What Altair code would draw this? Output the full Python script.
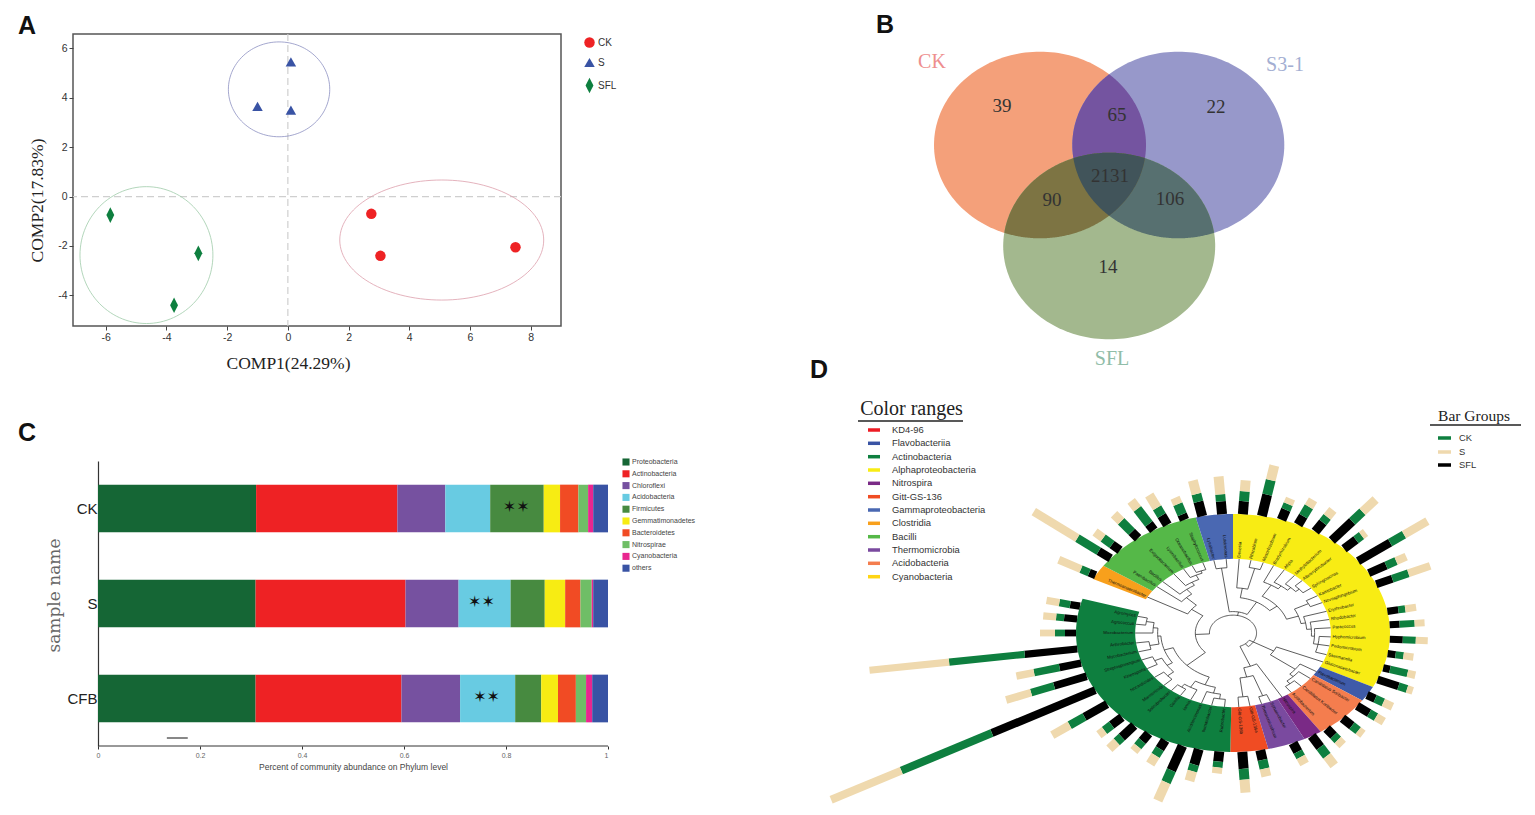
import math
import altair as alt
import numpy as np
import pandas as pd

SANS = "Liberation Sans"
SERIF = "Liberation Serif"

# ---------- Panel A data ----------
a_group = ["CK", "CK", "CK", "S", "S", "S", "SFL", "SFL", "SFL"]
a_x = [2.75, 3.05, 7.5, 0.1, -1.0, 0.1, -5.85, -2.95, -3.75]
a_y = [-0.7, -2.4, -2.05, 5.45, 3.65, 3.5, -0.75, -2.3, -4.4]
a_ell_center = [(5.07, -1.76), (-0.29, 4.34), (-4.66, -2.37)]
a_ell_radius = [(3.36, 2.43), (1.67, 1.92), (2.19, 2.77)]
a_ell_color = ["#DDA0AC", "#8D90C2", "#A0CBAA"]
a_groups = ["CK", "S", "SFL"]
a_colors = ["#EE2224", "#3953A4", "#0E7F3F"]
a_shapes = ["circle", "triangle-up", "M0,-1.5L0.75,0L0,1.5L-0.75,0Z"]

# ---------- Panel C data ----------
c_samples = ["CK", "S", "CFB"]
c_phyla = ["Proteobacteria", "Actinobacteria", "Chloroflexi", "Acidobacteria", "Firmicutes",
           "Gemmatimonadetes", "Bacteroidetes", "Nitrospirae", "Cyanobacteria", "others"]
c_colors = ["#156635", "#EE2224", "#7651A0", "#68CBE2", "#478A40",
            "#F7EC13", "#F14B24", "#6FBE66", "#E9268F", "#3953A4"]
c_ck = [0.310, 0.277, 0.094, 0.088, 0.105, 0.032, 0.036, 0.019, 0.010, 0.029]
c_s = [0.309, 0.294, 0.104, 0.102, 0.067, 0.040, 0.030, 0.022, 0.003, 0.029]
c_cfb = [0.309, 0.286, 0.115, 0.108, 0.051, 0.033, 0.035, 0.020, 0.012, 0.031]
c_star_x = [0.82, 0.752, 0.762]

# ---------- Panel B data (positions in figure units) ----------
b_ell = [(1040, 144, 106, 93.3), (1178.3, 144, 106, 93.3), (1109.2, 245, 106, 93.3)]
b_fill = ["#F4A07A", "#9798CA", "#A3B88E"]
b_pair_fill = {(0, 1): "#7454A0", (1, 2): "#577070", (0, 2): "#7D7443"}
b_triple_fill = "#41545A"
b_counts = ["39", "65", "22", "2131", "90", "106", "14"]
b_count_x = [1002, 1117, 1216, 1110, 1052, 1170, 1108]
b_count_y = [105, 114, 106, 175, 199, 198, 266]
b_names = ["CK", "S3-1", "SFL"]
b_name_x = [932, 1285, 1112]
b_name_y = [61, 64, 358]
b_name_color = ["#EE8E8E", "#A3AED2", "#90BDA8"]

# ---------- Panel D data ----------
CX, CY, RX, RY, R_IN = 1233.0, 632.0, 157.0, 119.0, 0.623
d_sector_name = ["Gitt-GS-136", "Actinobacteria", "Clostridia", "Bacilli", "Gammaproteobacteria",
                 "Alphaproteobacteria", "Flavobacteriia", "Acidobacteria", "Nitrospira", "Thermomicrobia"]
d_sector_from = [167, 181, 297, 304.4, 346.3, 360, 477, 484.6, 506, 512.9]
d_sector_to = [181, 286.7, 304.4, 346.3, 360, 477, 484.6, 506, 512.9, 527]
d_sector_color = ["#F04C23", "#0E7F3F", "#F8A01C", "#55B848", "#4A68B2",
                  "#F8EC14", "#3F5BA9", "#F47D4E", "#7A2A86", "#7A4A9F"]

d_leaf = ["Rubrobacter", "Ilumatobacter", "Aciditerrimonas", "Iamia", "Gaiella", "Solirubrobacter",
          "Marmoricola", "Nocardioides", "Kineosporia", "Streptosporangium", "Mycobacterium",
          "Arthrobacter", "Microbacterium", "Agrococcus", "Agromyces",
          "Thermoanaerobacter",
          "Paenibacillus", "Bacillus", "Exiguobacterium", "Lysinibacillus", "Oceanobacillus", "Staphylococcus",
          "Lysobacter", "Luteimonas",
          "Devosia", "Rhizobium", "Mesorhizobium", "Bradyrhizobium", "Afipia", "Methylobacterium", "Altererythrobacter",
          "Sphingomonas", "Kaistobacter", "Novosphingobium", "Erythrobacter", "Rhodobacter",
          "Paracoccus", "Hyphomicrobium", "Pedomicrobium", "Skermanella", "Gluconacetobacter",
          "Flavobacterium",
          "Candidatus Solibacter", "Candidatus Koribacter", "Acidobacterium",
          "Nitrospira",
          "Sphaerobacter", "Thermomicrobium",
          "Gitt-GS-136a", "Gitt-GS-136b"]
d_angle = [185, 192.6, 198.8, 205.6, 212.5, 219, 225, 233.3, 241.3, 248.7, 255.3, 262.3, 270, 276.8, 283,
           299,
           308.8, 314, 322.8, 329.7, 335.3, 342,
           348.7, 356,
           363.6, 370.6, 378, 384.5, 391.6, 399, 405, 412.8, 419.8, 425.8, 433, 439.5, 446, 453, 460, 467, 473,
           481.4,
           487.8, 495.8, 503.4,
           509.9,
           517.5, 523,
           530, 536.6]
d_black = [10, 16, 27, 10, 10, 17, 13, 26, 112, 34, 22, 53, 11, 13, 10,
           7,
           14, 10, 9, 8, 11, 6,
           15, 13,
           13, 22, 11, 10, 12, 28, 15, 37, 19, 17, 0, 11, 10, 13, 8, 7, 22,
           9,
           14, 12, 10,
           14,
           10, 0,
           10, 17]
d_green = [6, 7, 13, 8, 7, 7, 9, 17, 98, 24, 26, 76, 10, 8, 11,
           9,
           25, 11, 15, 19, 9, 11,
           8, 7,
           10, 15, 6, 11, 7, 14, 7, 16, 11, 17, 0, 7, 15, 13, 8, 18, 9,
           9,
           8, 8, 6,
           11,
           6, 0,
           9, 11]
d_tan = [6, 10, 20, 10, 6, 10, 7, 20, 76, 26, 18, 80, 15, 13, 13,
         24,
         51, 10, 10, 10, 15, 7,
         14, 18,
         11, 15, 6, 8, 9, 18, 5, 27, 11, 23, 0, 11, 10, 12, 10, 8, 6,
         10,
         9, 6, 7,
         12,
         8, 0,
         8, 13]

d_range_names = ["KD4-96", "Flavobacteriia", "Actinobacteria", "Alphaproteobacteria", "Nitrospira", "Gitt-GS-136",
                 "Gammaproteobacteria", "Clostridia", "Bacilli", "Thermomicrobia", "Acidobacteria", "Cyanobacteria"]
d_range_colors = ["#ED1C24", "#3953A4", "#0E7F3F", "#F8EC14", "#7A2A86", "#F04C23",
                  "#4A68B2", "#F8A01C", "#55B848", "#7A4A9F", "#F47D4E", "#FFD514"]
d_range_y = [429, 442.3, 455.7, 469, 482.3, 495.7, 509, 522.3, 535.7, 549, 562.3, 575.7]
d_bar_names = ["CK", "S", "SFL"]
d_bar_colors = ["#0E7F3F", "#EFD9AE", "#000000"]
d_bar_y = [437, 451, 464]

def N(r, *kids):
    return (r, kids)

acti = N(.40,
         N(.47, N(.52, N(.56, 0, 1), 2), N(.53, 3, N(.56, 4, 5))),
         N(.46, N(.50, N(.55, 6, 7), N(.55, 8, 9)), N(.48, N(.54, 10, 11), N(.51, 12, N(.56, 13, 14)))))
firm = N(.33, 15, N(.42, 16, N(.47, 17, N(.50, 18, N(.54, 19, N(.56, 20, 21))))))
gamma = N(.55, 22, 23)
alpha = N(.30, N(.38, 24, N(.56, 25, 26)),
          N(.36, N(.47, 27, N(.5, 28, N(.53, 29, N(.56, 30, 31)))),
            N(.44, N(.54, 32, 33), N(.47, 34, N(.50, 35, N(.52, 36, N(.55, 37, 38, 39)))))))
lower = N(.12, N(.30, 40, N(.50, 41, N(.53, 42, N(.56, 43, 44)))),
          N(.30, 45, N(.38, N(.56, 46, 47), N(.54, 48, 49))))
root = N(.15, N(.24, acti, firm), N(.18, gamma, alpha), lower)


def pt(t, r):
    a = math.radians(t)
    return CX + RX * r * math.sin(a), CY - RY * r * math.cos(a)


# --- dendrogram segments ---
tree_rows = []
seg = [0]


def add_line(points):
    seg[0] += 1
    for i, (x, y) in enumerate(points):
        tree_rows.append({"x": x, "y": y, "s": seg[0], "i": i})


def walk(node):
    if isinstance(node, int):
        return d_angle[node], R_IN
    r, kids = node
    res = [walk(k) for k in kids]
    angs = [a for a, _ in res]
    lo, hi = min(angs), max(angs)
    for a, kr in res:
        add_line([pt(a, r), pt(a, kr)])
    steps = max(2, int((hi - lo) / 3))
    add_line([pt(lo + (hi - lo) * j / steps, r) for j in range(steps + 1)])
    return (lo + hi) / 2, r


walk(root)
tree_df = pd.DataFrame(tree_rows)

# --- ring sectors ---
sector_rows = []
for k, (t0, t1, col) in enumerate(zip(d_sector_from, d_sector_to, d_sector_color)):
    n = max(3, int((t1 - t0) / 2))
    ts = [t0 + (t1 - t0) * j / n for j in range(n + 1)]
    pts = [pt(t, 1.0) for t in ts] + [pt(t, R_IN) for t in reversed(ts)]
    pts.append(pts[0])
    for i, (x, y) in enumerate(pts):
        sector_rows.append({"x": x, "y": y, "s": k, "i": i, "c": col})
sector_df = pd.DataFrame(sector_rows)

# --- radial bars ---
bar_rows = []
for t, b, g, n in zip(d_angle, d_black, d_green, d_tan):
    x0, y0 = pt(t, 1.0)
    a = math.radians(t)
    dx, dy = RX * math.sin(a), -RY * math.cos(a)
    L = math.hypot(dx, dy)
    dx, dy = dx / L, dy / L
    w = 6.8 + 3.2 * abs(dy)
    d = 0.0
    for ln, col in zip((b, g, n), ("#000000", "#0E7F3F", "#EFD9AE")):
        if ln > 0:
            bar_rows.append({"x": x0 + dx * d, "y": y0 + dy * d, "x2": x0 + dx * (d + ln),
                             "y2": y0 + dy * (d + ln), "c": col, "w": w})
        d += ln
bar_df = pd.DataFrame(bar_rows)

# --- leaf labels ---
label_rows = []
for name, t in zip(d_leaf, d_angle):
    x, y = pt(t, 0.635)
    x1, y1 = pt(t, 1.0)
    phi = math.degrees(math.atan2(y1 - y, x1 - x))
    left = (t % 360) > 180
    label_rows.append({"x": x, "y": y, "name": name, "angle": (phi + 180) % 360 if left else phi % 360,
                       "side": "L" if left else "R"})
label_df = pd.DataFrame(label_rows)

# ---------- Scales for the figure-unit panel ----------
RIGHT_X0, RIGHT_X1, RIGHT_Y0, RIGHT_Y1 = 800, 1525, 33, 806
sx = alt.Scale(domain=[RIGHT_X0, RIGHT_X1], nice=False, zero=False)
sy = alt.Scale(domain=[RIGHT_Y1, RIGHT_Y0], nice=False, zero=False)
X = lambda f="x": alt.X(f"{f}:Q", scale=sx, axis=None)
Y = lambda f="y": alt.Y(f"{f}:Q", scale=sy, axis=None)


def text_layer(df, **kw):
    return alt.Chart(df).mark_text(**kw).encode(X(), Y(), text="t:N")


# ---------- Venn ----------
def ell_points(e, n=180):
    return [(e[0] + e[2] * math.cos(2 * math.pi * i / n), e[1] + e[3] * math.sin(2 * math.pi * i / n))
            for i in range(n)]


def inside(p, e):
    return ((p[0] - e[0]) / e[2]) ** 2 + ((p[1] - e[1]) / e[3]) ** 2 <= 1.0


def region(ids):
    pts = []
    for i in ids:
        for p in ell_points(b_ell[i], 720):
            if all(inside(p, b_ell[j]) for j in ids if j != i):
                pts.append(p)
    mx = sum(p[0] for p in pts) / len(pts)
    my = sum(p[1] for p in pts) / len(pts)
    pts.sort(key=lambda p: math.atan2(p[1] - my, p[0] - mx))
    pts.append(pts[0])
    return pts


venn_polys = []
for e, col in zip(b_ell, b_fill):
    pp = ell_points(e)
    venn_polys.append((pp + [pp[0]], col))
for ids, col in b_pair_fill.items():
    venn_polys.append((region(ids), col))
venn_polys.append((region((0, 1, 2)), b_triple_fill))

venn_layers = []
for pts, col in venn_polys:
    sub = pd.DataFrame({"x": [p[0] for p in pts], "y": [p[1] for p in pts], "i": range(len(pts))})
    venn_layers.append(
        alt.Chart(sub).mark_line(filled=True, strokeWidth=0).encode(
            X(), Y(), order="i:Q", fill=alt.value(col))
    )

count_df = pd.DataFrame({"x": b_count_x, "y": b_count_y, "t": b_counts})
names_df = pd.DataFrame({"x": b_name_x, "y": b_name_y, "t": b_names, "c": b_name_color})

b_layers = venn_layers + [
    text_layer(count_df, font=SERIF, fontSize=19, color="#333333", baseline="middle"),
    alt.Chart(names_df).mark_text(font=SERIF, fontSize=20, baseline="middle").encode(
        X(), Y(), text="t:N", color=alt.Color("c:N", scale=None)),
]

# ---------- Panel D layers ----------
letters_df = pd.DataFrame({"x": [876, 810], "y": [32, 377], "t": ["B", "D"]})
d_range_df = pd.DataFrame({"x": [892] * 12, "y": d_range_y, "t": d_range_names})
d_range_sw = pd.DataFrame({"x": [868] * 12, "x2": [880] * 12, "y": d_range_y, "c": d_range_colors})
d_bar_df = pd.DataFrame({"x": [1459] * 3, "y": d_bar_y, "t": d_bar_names})
d_bar_sw = pd.DataFrame({"x": [1438] * 3, "x2": [1451] * 3, "y": d_bar_y, "c": d_bar_colors})
under_df = pd.DataFrame({"x": [858, 1430], "x2": [963, 1521], "y": [420, 424], "c": ["#222222", "#222222"]})
title_df = pd.DataFrame({"x": [911.5, 1474], "y": [414, 420], "t": ["Color ranges", "Bar Groups"]})


def sw_layer(df, width):
    return alt.Chart(df).mark_rule(strokeWidth=width).encode(
        X(), alt.X2("x2:Q"), Y(), color=alt.Color("c:N", scale=None))


sector_layers = []
for k, sub in sector_df.groupby("s"):
    sector_layers.append(
        alt.Chart(sub).mark_line(filled=True, strokeWidth=0).encode(
            X(), Y(), order="i:Q", fill=alt.value(sub["c"].iloc[0]))
    )

d_layers = sector_layers + [
    alt.Chart(bar_df).mark_rule().encode(
        X(), Y(), alt.X2("x2:Q"), alt.Y2("y2:Q"),
        color=alt.Color("c:N", scale=None),
        strokeWidth=alt.StrokeWidth("w:Q", scale=None)),
    alt.Chart(tree_df).mark_line(color="#333333", strokeWidth=0.8).encode(
        X(), Y(), detail="s:N", order="i:Q"),
    alt.Chart(label_df[label_df.side == "R"]).mark_text(
        font=SANS, fontSize=4.4, align="left", baseline="middle", color="#111111").encode(
        X(), Y(), text="name:N", angle=alt.Angle("angle:Q", scale=None)),
    alt.Chart(label_df[label_df.side == "L"]).mark_text(
        font=SANS, fontSize=4.4, align="right", baseline="middle", color="#111111").encode(
        X(), Y(), text="name:N", angle=alt.Angle("angle:Q", scale=None)),
    sw_layer(d_range_sw, 3.5),
    sw_layer(d_bar_sw, 3.5),
    sw_layer(under_df, 1.5),
    text_layer(d_range_df, font=SANS, fontSize=9.4, color="#333333", align="left", baseline="middle"),
    text_layer(d_bar_df, font=SANS, fontSize=9.4, color="#333333", align="left", baseline="middle"),
    text_layer(title_df.iloc[[0]], font=SERIF, fontSize=20, color="#222222", baseline="alphabetic"),
    text_layer(title_df.iloc[[1]], font=SERIF, fontSize=15.5, color="#222222", baseline="alphabetic"),
    text_layer(letters_df, font=SANS, fontSize=25, fontWeight="bold", color="#111111",
               align="left", baseline="alphabetic"),
]

right = alt.layer(*b_layers, *d_layers).properties(
    width=RIGHT_X1 - RIGHT_X0, height=RIGHT_Y1 - RIGHT_Y0,
    view=alt.ViewBackground(stroke=None))

# ---------- Panel A ----------
a_df = pd.DataFrame({"x": a_x, "y": a_y, "g": a_group})
ax = alt.Scale(domain=[-7.08, 9.0], nice=False, zero=False)
ay = alt.Scale(domain=[-5.24, 6.58], nice=False, zero=False)
x_axis = alt.Axis(values=[-6, -4, -2, 0, 2, 4, 6, 8], grid=False, domain=False, tickColor="#444444", tickSize=4,
                  labelFont=SANS, labelFontSize=10.5, labelColor="#333333", title="COMP1(24.29%)",
                  labelExpr="datum.value + ''",
                  titleFont=SERIF, titleFontSize=17.5, titleFontWeight="normal", titleColor="#222222",
                  titleX=215, titleY=28, labelPadding=2)
y_axis = alt.Axis(values=[-4, -2, 0, 2, 4, 6], grid=False, domain=False, tickColor="#444444", tickSize=4,
                  labelFont=SANS, labelFontSize=10.5, labelColor="#333333", title="COMP2(17.83%)",
                  labelExpr="datum.value + ''",
                  titleFont=SERIF, titleFontSize=17.5, titleFontWeight="normal", titleColor="#222222",
                  titleX=-27, titleY=166, labelPadding=2)
ax_x = alt.X("x:Q", scale=ax, axis=x_axis)
ax_y = alt.Y("y:Q", scale=ay, axis=y_axis)

zero_x = alt.Chart(pd.DataFrame({"x": [0]})).mark_rule(color="#CFCFCF", strokeDash=[7, 4], strokeWidth=1.2).encode(
    x=ax_x)
zero_y = alt.Chart(pd.DataFrame({"y": [0]})).mark_rule(color="#CFCFCF", strokeDash=[7, 4], strokeWidth=1.2).encode(
    y=ax_y)

ell_layers = []
for (c, r, col) in zip(a_ell_center, a_ell_radius, a_ell_color):
    th = np.linspace(0, 2 * np.pi, 121)
    e_df = pd.DataFrame({"x": c[0] + r[0] * np.cos(th), "y": c[1] + r[1] * np.sin(th), "i": np.arange(121)})
    ell_layers.append(alt.Chart(e_df).mark_line(color=col, strokeWidth=0.8).encode(x=ax_x, y=ax_y, order="i:Q"))

a_legend = alt.Legend(orient="none", legendX=511, legendY=3, title=None, labelFont=SANS, labelFontSize=10,
                      labelColor="#333333", symbolSize=110, rowPadding=9, labelOffset=3, symbolStrokeWidth=0)
a_points = alt.Chart(a_df).mark_point(filled=True, opacity=1, size=110).encode(
    x=ax_x, y=ax_y,
    color=alt.Color("g:N", scale=alt.Scale(domain=a_groups, range=a_colors), legend=a_legend),
    shape=alt.Shape("g:N", scale=alt.Scale(domain=a_groups, range=a_shapes), legend=a_legend))
a_letter = alt.Chart(pd.DataFrame({"t": ["A"]})).mark_text(
    font=SANS, fontSize=25, fontWeight="bold", color="#111111", align="left", baseline="alphabetic").encode(
    x=alt.value(-55), y=alt.value(0), text="t:N")

panel_a = alt.layer(zero_x, zero_y, *ell_layers, a_points, a_letter).properties(
    width=488, height=292, view=alt.ViewBackground(stroke="#555555", strokeWidth=1.5))

# ---------- Panel C ----------
C_SHIFT = 25  # the plot of panel C starts this far right of panel A's
C_W = 510
c_rows = []
for s, vals in zip(c_samples, (c_ck, c_s, c_cfb)):
    for i, (p, v) in enumerate(zip(c_phyla, vals)):
        c_rows.append({"sample": s, "phylum": p, "value": v, "i": i})
c_df = pd.DataFrame(c_rows)
cx_scale = alt.Scale(domain=[-C_SHIFT / C_W, 1], nice=False, zero=False)
cy_scale = alt.Scale(domain=c_samples, paddingInner=0.5, paddingOuter=0.25)
c_x_axis = alt.Axis(values=[0, 0.2, 0.4, 0.6, 0.8, 1], format="~g", grid=False, domain=False,
                    tickColor="#333333", tickSize=3, labelFont=SANS, labelFontSize=7, labelColor="#666666",
                    title="Percent of community abundance on Phylum level", titleFont=SANS,
                    titleFontSize=8.5, titleFontWeight="normal", titleColor="#444444", titlePadding=4,
                    titleX=280)
c_y_axis = alt.Axis(grid=False, ticks=False, domainColor="#333333", domainWidth=1.2, offset=-C_SHIFT,
                    labelFont=SANS, labelFontSize=15, labelColor="#222222", labelPadding=1,
                    title="sample name", titleFont="DejaVu Serif", titleFontSize=17,
                    titleFontWeight="normal", titleColor="#666666", titleX=-35, titleY=134)
c_bars = alt.Chart(c_df).mark_bar(size=47.7).encode(
    x=alt.X("value:Q", stack="zero", scale=cx_scale, axis=c_x_axis),
    y=alt.Y("sample:N", scale=cy_scale, sort=c_samples, axis=c_y_axis),
    color=alt.Color("phylum:N", scale=alt.Scale(domain=c_phyla, range=c_colors),
                    legend=alt.Legend(orient="none", legendX=524 + C_SHIFT, legendY=-3, title=None,
                                      symbolType="square", symbolSize=50, labelFont=SANS, labelFontSize=7,
                                      labelColor="#444444", rowPadding=3.8, labelOffset=2, symbolStrokeWidth=0)),
    order=alt.Order("i:Q"))
star_df = pd.DataFrame({"value": c_star_x, "sample": c_samples, "t": ["✶✶"] * 3})
c_stars = alt.Chart(star_df).mark_text(font="DejaVu Sans", fontSize=16, color="#111111", dy=-2).encode(
    x=alt.X("value:Q", scale=cx_scale, axis=c_x_axis),
    y=alt.Y("sample:N", scale=cy_scale, sort=c_samples, axis=c_y_axis),
    text="t:N")
c_mark = alt.Chart(pd.DataFrame({"value": [0.135], "x2": [0.176]})).mark_rule(color="#111111", strokeWidth=1).encode(
    x=alt.X("value:Q", scale=cx_scale, axis=c_x_axis), x2="x2:Q", y=alt.value(277))
c_base = alt.Chart(pd.DataFrame({"value": [0], "x2": [1]})).mark_rule(color="#333333", strokeWidth=1).encode(
    x=alt.X("value:Q", scale=cx_scale, axis=c_x_axis), x2="x2:Q", y=alt.value(285))
c_letter = alt.Chart(pd.DataFrame({"t": ["C"]})).mark_text(
    font=SANS, fontSize=25, fontWeight="bold", color="#111111", align="left", baseline="alphabetic").encode(
    x=alt.value(-55), y=alt.value(-20), text="t:N")
panel_c = alt.layer(c_bars, c_stars, c_mark, c_base, c_letter).properties(
    width=C_W + C_SHIFT, height=285, view=alt.ViewBackground(stroke=None))

left = alt.vconcat(panel_a, panel_c, spacing=48).resolve_scale(color="independent", shape="independent")
chart = alt.hconcat(left, right, spacing=104).resolve_scale(color="independent", shape="independent").properties(
    padding={"left": 9, "top": 5, "right": 0, "bottom": 0}
).configure_view(stroke=None)

chart.save("out.html", embed_options={"renderer": "svg", "actions": False})
